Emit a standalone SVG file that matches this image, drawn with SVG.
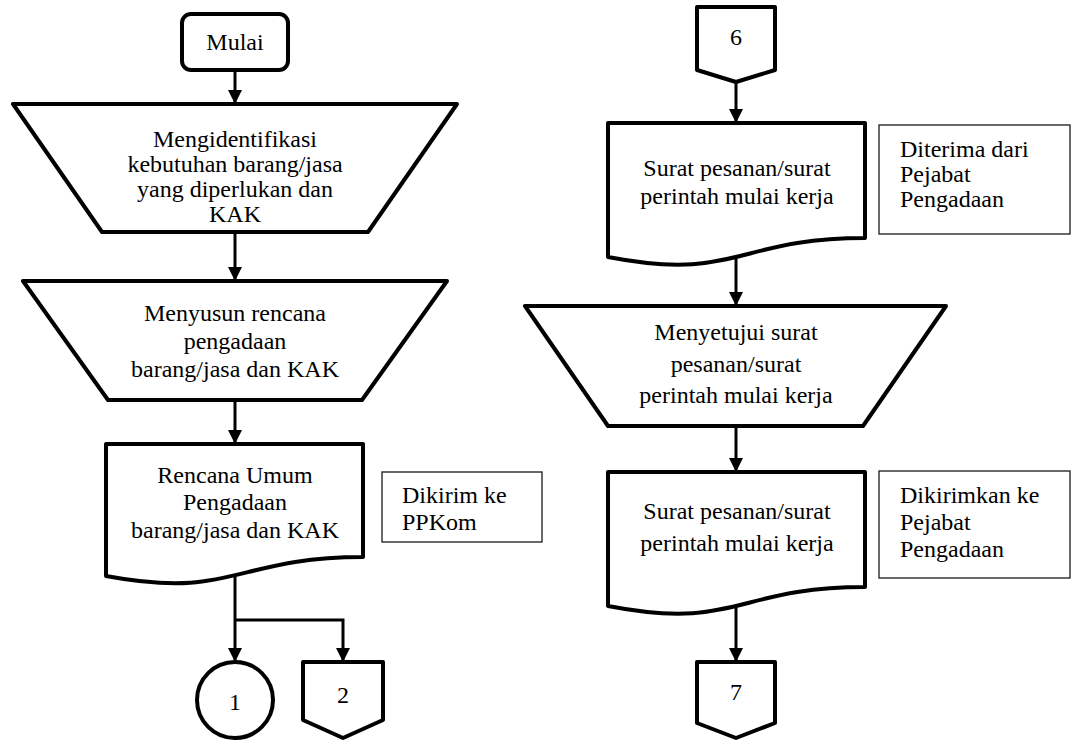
<svg xmlns="http://www.w3.org/2000/svg" width="1079" height="740" viewBox="0 0 1079 740">
  <style>
    .shape { fill: #ffffff; stroke: #000000; stroke-width: 4; stroke-linejoin: round; }
    .note { fill: #ffffff; stroke: #1a1a1a; stroke-width: 1.3; }
    .flow { fill: none; stroke: #000000; stroke-width: 3; }
    text { font-size: 24px; fill: #000000; }
    .c { text-anchor: middle; }
  </style>
  <defs>
    <marker id="arrow" markerUnits="userSpaceOnUse" markerWidth="16" markerHeight="16" refX="12" refY="7" orient="auto">
      <path d="M0,0 L14,7 L0,14 Z" fill="#000000"/>
    </marker>
  </defs>

  <!-- connectors -->
  <g id="connectors">
    <line class="flow" x1="235" y1="70" x2="235" y2="102" marker-end="url(#arrow)"/>
    <line class="flow" x1="235" y1="232" x2="235" y2="279" marker-end="url(#arrow)"/>
    <line class="flow" x1="235" y1="400" x2="235" y2="442" marker-end="url(#arrow)"/>
    <polyline class="flow" points="235,570 235,620 235,660" marker-end="url(#arrow)"/>
    <polyline class="flow" points="235,620 343,620 343,660" marker-end="url(#arrow)"/>
    <line class="flow" x1="736" y1="80" x2="736" y2="121" marker-end="url(#arrow)"/>
    <line class="flow" x1="736" y1="252" x2="736" y2="304" marker-end="url(#arrow)"/>
    <line class="flow" x1="736" y1="426" x2="736" y2="470" marker-end="url(#arrow)"/>
    <line class="flow" x1="736" y1="600" x2="736" y2="660" marker-end="url(#arrow)"/>
  </g>

  <!-- left column -->
  <g id="start">
    <rect class="shape" x="182" y="14" width="106" height="56" rx="9"/>
    <text class="c" font-family="Times New Roman" x="235" y="50">Mulai</text>
  </g>

  <g id="identify">
    <path class="shape" d="M13,104 L457,104 L368,232 L102,232 Z"/>
    <text class="c" font-family="Times New Roman" x="235" y="147">Mengidentifikasi</text>
    <text class="c" font-family="Times New Roman" x="235" y="172">kebutuhan barang/jasa</text>
    <text class="c" font-family="Times New Roman" x="235" y="197">yang diperlukan dan</text>
    <text class="c" font-family="Times New Roman" x="235" y="222">KAK</text>
  </g>

  <g id="plan">
    <path class="shape" d="M23,281 L447,281 L362,400 L108,400 Z"/>
    <text class="c" font-family="Times New Roman" x="235" y="321">Menyusun rencana</text>
    <text class="c" font-family="Times New Roman" x="235" y="349">pengadaan</text>
    <text class="c" font-family="Times New Roman" x="235" y="377">barang/jasa dan KAK</text>
  </g>

  <g id="rup-doc">
    <path class="shape" d="M106,444 L363,444 L363,557 C234.5,557 234.5,600 106,576 Z"/>
    <text class="c" font-family="Times New Roman" x="235" y="483">Rencana Umum</text>
    <text class="c" font-family="Times New Roman" x="235" y="510">Pengadaan</text>
    <text class="c" font-family="Times New Roman" x="235" y="538">barang/jasa dan KAK</text>
  </g>

  <g id="note-ppkom">
    <rect class="note" x="382" y="472" width="160" height="70"/>
    <text font-family="Times New Roman" x="402" y="503">Dikirim ke</text>
    <text font-family="Times New Roman" x="402" y="530">PPKom</text>
  </g>

  <g id="connector-1">
    <circle class="shape" cx="235" cy="700" r="38"/>
    <text class="c" font-family="Times New Roman" x="235" y="710">1</text>
  </g>

  <g id="offpage-2">
    <path class="shape" d="M303,662 L383,662 L383,720 L343,738 L303,720 Z"/>
    <text class="c" font-family="Times New Roman" x="343" y="703">2</text>
  </g>

  <!-- right column -->
  <g id="offpage-6">
    <path class="shape" d="M697,7 L775,7 L775,70 L736,82 L697,70 Z"/>
    <text class="c" font-family="Times New Roman" x="736" y="45">6</text>
  </g>

  <g id="order-received">
    <path class="shape" d="M608,123 L865,123 L865,238 C736.5,238 736.5,282 608,257 Z"/>
    <text class="c" font-family="Times New Roman" x="737" y="176">Surat pesanan/surat</text>
    <text class="c" font-family="Times New Roman" x="737" y="204">perintah mulai kerja</text>
  </g>

  <g id="note-received">
    <rect class="note" x="879" y="125" width="191" height="109"/>
    <text font-family="Times New Roman" x="900" y="157">Diterima dari</text>
    <text font-family="Times New Roman" x="900" y="182">Pejabat</text>
    <text font-family="Times New Roman" x="900" y="207">Pengadaan</text>
  </g>

  <g id="approve">
    <path class="shape" d="M525,306 L946,306 L863,426 L608,426 Z"/>
    <text class="c" font-family="Times New Roman" x="736" y="340">Menyetujui surat</text>
    <text class="c" font-family="Times New Roman" x="736" y="372">pesanan/surat</text>
    <text class="c" font-family="Times New Roman" x="736" y="403">perintah mulai kerja</text>
  </g>

  <g id="order-sent">
    <path class="shape" d="M608,472 L865,472 L865,587 C736.5,587 736.5,631 608,606 Z"/>
    <text class="c" font-family="Times New Roman" x="737" y="519">Surat pesanan/surat</text>
    <text class="c" font-family="Times New Roman" x="737" y="551">perintah mulai kerja</text>
  </g>

  <g id="note-sent">
    <rect class="note" x="879" y="471" width="191" height="107"/>
    <text font-family="Times New Roman" x="900" y="503">Dikirimkan ke</text>
    <text font-family="Times New Roman" x="900" y="530">Pejabat</text>
    <text font-family="Times New Roman" x="900" y="557">Pengadaan</text>
  </g>

  <g id="offpage-7">
    <path class="shape" d="M697,662 L775,662 L775,723 L736,738 L697,723 Z"/>
    <text class="c" font-family="Times New Roman" x="736" y="700">7</text>
  </g>
</svg>
